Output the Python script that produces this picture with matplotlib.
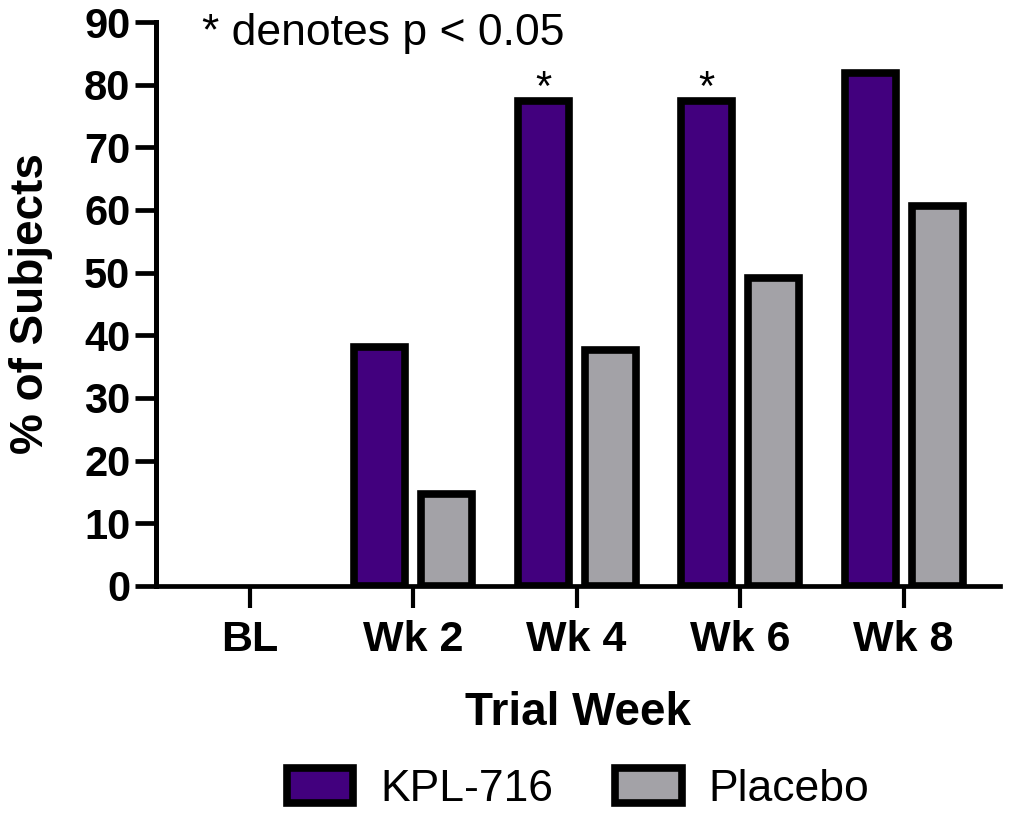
import numpy as np
import matplotlib
matplotlib.use('Agg')
import matplotlib.pyplot as plt
from matplotlib.patches import Patch

plt.rcParams['font.family'] = ['Liberation Sans', 'DejaVu Sans']

weeks = ['BL', 'Wk 2', 'Wk 4', 'Wk 6', 'Wk 8']
kpl716 = [0, 38.2, 77.4, 77.4, 81.8]
placebo = [0, 14.6, 37.7, 49.1, 60.7]
signif = [False, False, True, True, False]

PURPLE, GRAY = '#42007E', '#A3A2A7'
EW = 5.5

fig = plt.figure(figsize=(10.12, 8.15), dpi=100)
ax = fig.add_axes([0.1542, 0.2810, 0.834, 0.692])

x = np.arange(len(weeks)); off = 0.205; w = 0.312
b1 = ax.bar(x - off, kpl716, w, color=PURPLE, edgecolor='black', lw=EW, zorder=2)
b2 = ax.bar(x + off, placebo, w, color=GRAY, edgecolor='black', lw=EW, zorder=2)
# zero-height bars are not drawn in the original
for bars, vals in ((b1, kpl716), (b2, placebo)):
    for r, v in zip(bars, vals):
        if v == 0:
            r.set_visible(False)

for xi, v, s in zip(x, kpl716, signif):
    if s:
        ax.annotate('*', (xi - off, v), xytext=(0, 1), textcoords='offset points',
                    ha='center', va='baseline', fontsize=30)

ax.set_xlim(-0.572, 4.59); ax.set_ylim(0, 90)
ax.set_yticks(range(0, 91, 10))
ax.set_xticks(x); ax.set_xticklabels(weeks)
for s in ('top', 'right'):
    ax.spines[s].set_visible(False)
ax.spines['left'].set_linewidth(3.6); ax.spines['bottom'].set_linewidth(3.4)
for s in ('left', 'bottom'):
    ax.spines[s].set_zorder(5)
ax.tick_params(axis='y', length=15, width=3.4, pad=3.5, labelsize=30)
ax.tick_params(axis='x', length=16, width=3.0, pad=8.5, labelsize=31)
for t in ax.get_xticklabels() + ax.get_yticklabels():
    t.set_fontweight('bold')
ax.set_ylabel('% of Subjects', fontsize=33, fontweight='bold', labelpad=22)
ax.set_xlabel('Trial Week', fontsize=33, fontweight='bold', labelpad=22)

fig.text(202/1012, 1 - 45/815, '* denotes p < 0.05', fontsize=32, va='baseline', ha='left')

handles = [Patch(facecolor=PURPLE, edgecolor='black', lw=EW, label='KPL-716'),
           Patch(facecolor=GRAY, edgecolor='black', lw=EW, label='Placebo')]
ax.legend(handles=handles, loc='center', bbox_to_anchor=(0.5, -0.36), ncol=2, frameon=False,
          fontsize=32, handlelength=1.5, handleheight=0.85, handletextpad=0.6, columnspacing=1.4)

fig.savefig('out.png', dpi=100)
